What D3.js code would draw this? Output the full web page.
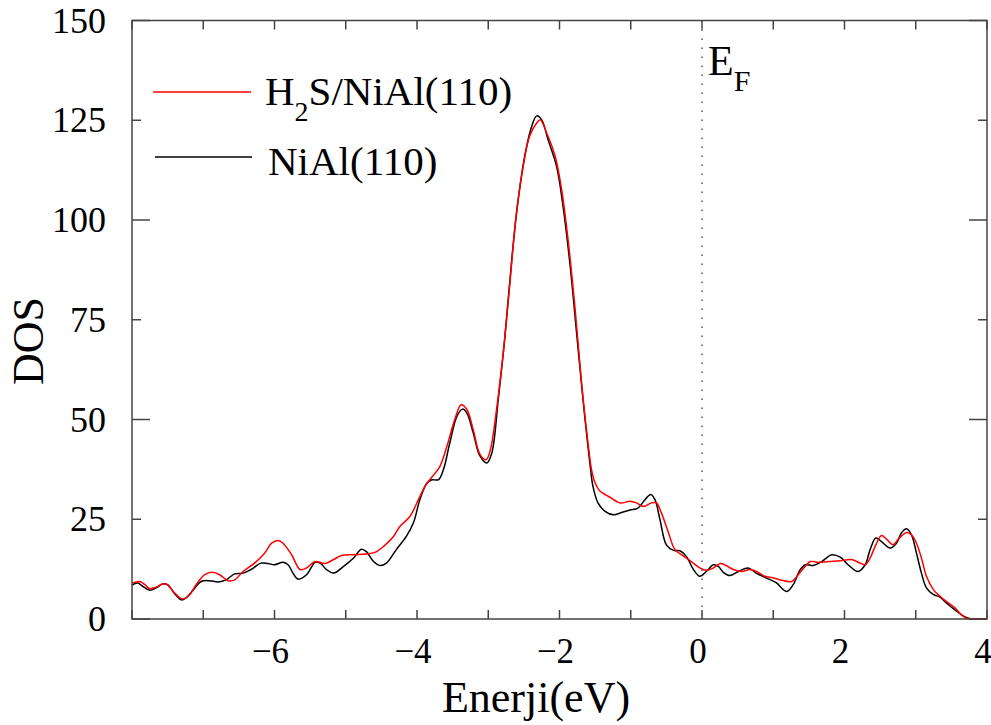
<!DOCTYPE html>
<html>
<head>
  <title>DOS H2S/NiAl(110)</title>
  <script src="https://d3js.org/d3.v7.min.js"></script>
  <style>
  body {
    margin: 0;
    background: #fff;
  }

  svg text {
    font-family: "Liberation Serif", Tinos, "Times New Roman", "DejaVu Serif", serif;
    fill: #000;
  }

  .frame {
    fill: none;
    stroke: #444;
    stroke-width: 1.5;
  }

  .tick {
    stroke: #444;
    stroke-width: 1.5;
  }
  </style>
</head>
<body>
  <script>

    // NiAl(110) - black curve
    var nialE = [-8.00, -7.92, -7.85, -7.75, -7.66, -7.57, -7.50, -7.40, -7.31, -7.24, -7.14, -7.03, -6.91, -6.79,
      -6.68, -6.56, -6.44, -6.33, -6.19, -6.09, -6.00, -5.88, -5.81, -5.74, -5.67, -5.55, -5.43, -5.36, -5.27,
      -5.17, -5.03, -4.89, -4.78, -4.71, -4.61, -4.52, -4.43, -4.29, -4.15, -4.05, -3.96, -3.86, -3.79, -3.70,
      -3.63, -3.54, -3.44, -3.36, -3.30, -3.21, -3.12, -3.02, -2.95, -2.86, -2.77, -2.67, -2.58, -2.48, -2.39,
      -2.32, -2.25, -2.16, -2.04, -1.95, -1.85, -1.76, -1.67, -1.57, -1.53, -1.46, -1.36, -1.24, -1.13, -1.01,
      -0.90, -0.80, -0.72, -0.66, -0.59, -0.50, -0.40, -0.31, -0.22, -0.12, -0.03, 0.06, 0.16, 0.23, 0.30, 0.39,
      0.51, 0.65, 0.76, 0.90, 1.04, 1.19, 1.28, 1.38, 1.45, 1.56, 1.68, 1.82, 1.94, 2.05, 2.19, 2.29, 2.36, 2.44,
      2.52, 2.64, 2.73, 2.80, 2.87, 2.94, 3.01, 3.08, 3.15, 3.25, 3.34, 3.43, 3.55, 3.67, 3.74, 3.80, 4.00];
    var nialDos = [8.5, 9.0, 8.2, 7.2, 7.8, 8.8, 8.6, 6.3, 4.8, 5.3, 7.3, 9.4, 9.6, 9.3,
      9.8, 11.3, 11.5, 12.4, 14.0, 13.9, 13.6, 14.2, 13.6, 11.5, 10.0, 11.1, 14.2, 14.0, 12.4,
      11.5, 13.2, 15.3, 17.5, 16.9, 14.4, 13.4, 14.0, 17.4, 20.7, 24.1, 29.9, 34.1, 34.9, 34.9,
      37.4, 44.1, 50.8, 52.6, 51.6, 46.6, 41.0, 39.1, 41.6, 55.0, 70.0, 90.1, 105.1, 116.8, 123.5,
      126.1, 125.1, 120.1, 113.4, 103.4, 88.4, 71.7, 55.0, 38.5, 33.2, 29.1, 27.0, 26.1, 26.7, 27.3,
      27.8, 29.9, 31.2, 29.9, 24.9, 18.6, 17.2, 17.1, 15.7, 12.4, 10.7, 11.9, 13.6, 13.2, 11.7, 10.9,
      11.9, 12.8, 11.5, 10.3, 9.1, 6.9, 8.6, 12.4, 13.6, 13.4, 14.4, 16.1, 15.5, 13.6, 11.9, 13.6, 17.4, 20.3,
      19.4, 17.8, 19.0, 21.6, 22.6, 21.1, 16.5, 11.5, 7.8, 6.1, 5.5, 4.0, 2.3, 0.7, 0.2, 0, 0];

    // H2S/NiAl(110) - red curve
    var h2sE = [-8.00, -7.89, -7.82, -7.75, -7.66, -7.57, -7.50, -7.40, -7.29, -7.19, -7.10, -6.98, -6.87, -6.77,
      -6.65, -6.56, -6.44, -6.28, -6.14, -6.04, -5.95, -5.88, -5.76, -5.64, -5.55, -5.43, -5.29, -5.17, -5.06,
      -4.89, -4.71, -4.59, -4.47, -4.33, -4.24, -4.10, -3.98, -3.89, -3.79, -3.68, -3.58, -3.47, -3.38, -3.30,
      -3.21, -3.12, -3.03, -2.97, -2.89, -2.79, -2.70, -2.61, -2.51, -2.42, -2.32, -2.27, -2.18, -2.06, -1.97,
      -1.88, -1.78, -1.69, -1.60, -1.55, -1.50, -1.43, -1.31, -1.15, -1.01, -0.92, -0.82, -0.71, -0.64, -0.57,
      -0.47, -0.38, -0.27, -0.15, -0.03, 0.06, 0.16, 0.26, 0.34, 0.44, 0.56, 0.67, 0.79, 0.88, 1.00, 1.10, 1.26,
      1.35, 1.45, 1.52, 1.63, 1.78, 1.94, 2.10, 2.22, 2.29, 2.36, 2.44, 2.52, 2.59, 2.68, 2.75, 2.87, 2.94, 3.01,
      3.08, 3.15, 3.25, 3.34, 3.43, 3.55, 3.64, 3.71, 3.80, 4.00];
    var h2sDos = [9.0, 9.4, 8.6, 7.6, 8.0, 8.8, 8.5, 6.5, 5.0, 6.1, 8.6, 11.1, 11.7, 11.1,
      9.6, 9.8, 11.9, 14.0, 16.5, 19.0, 19.7, 19.0, 16.1, 12.4, 12.8, 14.4, 13.9, 14.9, 15.9,
      16.1, 16.3, 16.7, 18.2, 20.7, 23.2, 25.7, 29.9, 33.2, 35.6, 38.2, 43.3, 50.0, 53.7, 52.5,
      47.4, 41.4, 39.9, 42.4, 51.6, 66.7, 83.4, 100.9, 113.4, 121.0, 124.3, 125.1, 121.8, 115.9, 107.6,
      95.1, 77.5, 59.1, 44.1, 37.4, 34.1, 32.0, 30.7, 29.1, 29.5, 29.1, 28.2, 29.1, 29.1, 26.6,
      21.6, 17.4, 15.9, 14.4, 12.8, 12.2, 12.8, 13.9, 13.4, 12.4, 11.9, 12.4, 11.7, 10.7, 10.3, 9.8, 9.4,
      11.1, 13.2, 14.4, 14.2, 14.4, 14.6, 14.9, 14.0, 13.6, 15.3, 18.6, 20.9, 20.0, 18.6, 19.9, 21.7, 21.1, 19.0,
      15.3, 10.7, 7.3, 5.7, 4.4, 2.8, 1.1, 0.2, 0, 0];

    var xTickLabels = [-6, -4, -2, 0, 2, 4];
    var yTickLabels = [0, 25, 50, 75, 100, 125, 150];
    var fermiLevel = 0;

    var width = 991;
    var height = 725;
    var serif = "'Liberation Serif', Tinos, 'Times New Roman', 'DejaVu Serif', serif";

    var svg = d3.select("body")
      .append("svg")
      .attr("width", width)
      .attr("height", height)
      .attr("font-family", serif);

    var x = d3.scaleLinear()
      .domain([-8, 4])
      .range([132, 987]);

    var y = d3.scaleLinear()
      .domain([0, 150])
      .range([619, 20.5]);

    function toPoints(es, ds) {
      return es.map(function(e, i) { return [e, ds[i]]; });
    }

    var line = d3.line()
      .x(function(d) { return x(d[0]); })
      .y(function(d) { return y(d[1]); })
      .curve(d3.curveCatmullRom.alpha(0.5));

    // ticks, inward on all four sides
    var ticks = svg.append("g");
    d3.range(-8, 5, 1).forEach(function(v) {
      ticks.append("line").attr("class", "tick")
        .attr("x1", x(v)).attr("x2", x(v))
        .attr("y1", y(0)).attr("y2", y(0) - 9);
      ticks.append("line").attr("class", "tick")
        .attr("x1", x(v)).attr("x2", x(v))
        .attr("y1", y(150)).attr("y2", y(150) + 9);
    });
    d3.range(0, 151, 25).forEach(function(v) {
      var len = v % 50 === 0 ? 18 : 9;
      ticks.append("line").attr("class", "tick")
        .attr("x1", x(-8)).attr("x2", x(-8) + len)
        .attr("y1", y(v)).attr("y2", y(v));
      ticks.append("line").attr("class", "tick")
        .attr("x1", x(4)).attr("x2", x(4) - len)
        .attr("y1", y(v)).attr("y2", y(v));
    });

    // fermi level
    svg.append("line")
      .attr("x1", x(fermiLevel)).attr("x2", x(fermiLevel))
      .attr("y1", y(150)).attr("y2", y(0))
      .attr("stroke", "#555")
      .attr("stroke-width", 1.5)
      .attr("stroke-dasharray", "1.5 7.5");

    svg.append("path")
      .datum(toPoints(nialE, nialDos))
      .attr("d", line)
      .attr("fill", "none")
      .attr("stroke", "#000")
      .attr("stroke-width", 1.5);

    svg.append("path")
      .datum(toPoints(h2sE, h2sDos))
      .attr("d", line)
      .attr("fill", "none")
      .attr("stroke", "#ff0000")
      .attr("stroke-width", 1.5);

    svg.append("rect")
      .attr("class", "frame")
      .attr("x", x(-8))
      .attr("y", y(150))
      .attr("width", x(4) - x(-8))
      .attr("height", y(0) - y(150));

    // tick labels
    svg.selectAll(".xlab")
      .data(xTickLabels)
      .enter()
      .append("text")
      .attr("x", function(d) { return x(d) - 4; })
      .attr("y", 663)
      .attr("text-anchor", "middle")
      .attr("font-family", serif)
      .style("font-size", "35px")
      .text(function(d) { return d < 0 ? "\u2212" + Math.abs(d) : d; });

    svg.selectAll(".ylab")
      .data(yTickLabels)
      .enter()
      .append("text")
      .attr("x", 106)
      .attr("y", function(d) { return y(d) + 12; })
      .attr("text-anchor", "end")
      .attr("font-family", serif)
      .style("font-size", "36px")
      .text(function(d) { return d; });

    // axis titles
    svg.append("text")
      .attr("x", 536)
      .attr("y", 712)
      .attr("text-anchor", "middle")
      .attr("font-family", serif)
      .style("font-size", "44px")
      .text("Enerji(eV)");

    svg.append("text")
      .attr("transform", "translate(43,341) rotate(-90)")
      .attr("text-anchor", "middle")
      .attr("font-family", serif)
      .style("font-size", "44px")
      .text("DOS");

    // E_F label
    var ef = svg.append("text")
      .attr("x", 708)
      .attr("y", 75)
      .attr("font-family", serif)
      .style("font-size", "42px");
    ef.append("tspan").text("E");
    ef.append("tspan").attr("dy", 16).style("font-size", "30px").text("F");

    // legend
    var legend = svg.append("g");
    legend.append("line")
      .attr("x1", 153).attr("x2", 251)
      .attr("y1", 92).attr("y2", 92)
      .attr("stroke", "#ff0000")
      .attr("stroke-width", 1.5);
    var lt = legend.append("text")
      .attr("x", 265)
      .attr("y", 105)
      .attr("font-family", serif)
      .style("font-size", "41px");
    lt.append("tspan").text("H");
    lt.append("tspan").attr("dy", 16).style("font-size", "28px").text("2");
    lt.append("tspan").attr("dy", -16).text("S/NiAl(110)");

    legend.append("line")
      .attr("x1", 155).attr("x2", 252)
      .attr("y1", 157).attr("y2", 157)
      .attr("stroke", "#000")
      .attr("stroke-width", 1.5);
    legend.append("text")
      .attr("x", 268)
      .attr("y", 175)
      .attr("font-family", serif)
      .style("font-size", "41px")
      .text("NiAl(110)");

  </script>
</body>
</html>
